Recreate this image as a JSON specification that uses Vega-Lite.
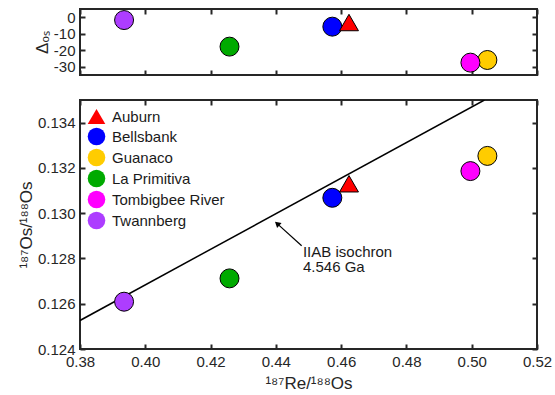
{
  "$schema": "https://vega.github.io/schema/vega-lite/v6.json",
  "padding": {"left": 16, "top": 7, "right": 10, "bottom": 5},
  "background": "white",
  "spacing": 21,
  "datasets": {
    "met": [
      {"name": "Guanaco", "re": 0.5048, "os": 0.13253, "delta": -25.9},
      {"name": "Tombigbee River", "re": 0.4996, "os": 0.13186, "delta": -27.5},
      {"name": "Bellsbank", "re": 0.4573, "os": 0.13068, "delta": -5.7},
      {"name": "Auburn", "re": 0.4624, "os": 0.1313, "delta": -3.2},
      {"name": "La Primitiva", "re": 0.4258, "os": 0.12712, "delta": -17.8},
      {"name": "Twannberg", "re": 0.3935, "os": 0.12609, "delta": -1.7}
    ],
    "iso": [
      {"re": 0.38, "os": 0.12526},
      {"re": 0.5039, "os": 0.135}
    ],
    "shaft": [
      {"re": 0.4479, "os": 0.12856, "re2": 0.4404, "os2": 0.12954}
    ],
    "head": [
      {"re": 0.4404, "os": 0.12954}
    ],
    "ann": [
      {"re": 0.4483, "os": 0.12829, "label": ["IIAB isochron", "4.546 Ga"]}
    ]
  },
  "config": {
    "font": "Liberation Sans",
    "view": {"stroke": "#262626", "strokeWidth": 2},
    "axis": {
      "domain": false,
      "grid": false,
      "labelFont": "Liberation Sans",
      "labelFontSize": 15,
      "labelColor": "#262626",
      "labelFlush": false,
      "labelOverlap": false,
      "titleFont": "Liberation Sans",
      "titleFontSize": 17,
      "titleFontWeight": "normal",
      "titleColor": "#262626",
      "tickColor": "#262626",
      "tickSize": -5,
      "tickWidth": 2,
      "labelPadding": 10,
      "titlePadding": 2
    }
  },
  "resolve": {"legend": {"fill": "independent", "shape": "independent"}},
  "vconcat": [
    {
      "width": 457,
      "height": 66,
      "layer": [
        {
          "encoding": {
            "x": {"field": "re", "type": "quantitative",
              "scale": {"domain": [0.38, 0.52], "nice": false, "zero": false},
              "axis": {"orient": "bottom", "values": [0.38, 0.4, 0.42, 0.44, 0.46, 0.48, 0.5, 0.52], "labels": false, "title": null}},
            "y": {"field": "delta", "type": "quantitative",
              "scale": {"domain": [-35, 5], "nice": false, "zero": false},
              "axis": {"orient": "left", "values": [0, -10, -20, -30], "labelExpr": "'' + datum.value", "title": "Δₒₛ", "titlePadding": 2}}
          },
          "layer": [
            {
              "data": {"values": [{}]},
              "mark": {"type": "rule", "color": "#262626", "strokeWidth": 1.5},
              "encoding": {"x": null, "y": {"datum": 0, "type": "quantitative"}}
            },
            {
              "data": {"name": "met"},
              "mark": {"type": "point", "filled": true, "stroke": "black", "strokeWidth": 1, "size": 360, "opacity": 1},
              "encoding": {
                "fill": {"field": "name", "type": "nominal",
                  "scale": {"domain": ["Auburn", "Bellsbank", "Guanaco", "La Primitiva", "Tombigbee River", "Twannberg"],
                    "range": ["#FF0000", "#0000FF", "#FFCC00", "#00AA00", "#FF00FF", "#AD3DFF"]},
                  "legend": null},
                "shape": {"field": "name", "type": "nominal",
                  "scale": {"domain": ["Auburn", "Bellsbank", "Guanaco", "La Primitiva", "Tombigbee River", "Twannberg"],
                    "range": ["triangle-up", "circle", "circle", "circle", "circle", "circle"]},
                  "legend": null}
              }
            }
          ]
        },
        {
          "data": {"name": "met"},
          "mark": {"type": "point", "opacity": 0},
          "encoding": {
            "x": {"field": "re", "type": "quantitative",
              "axis": {"orient": "top", "values": [0.38, 0.4, 0.42, 0.44, 0.46, 0.48, 0.5, 0.52], "labels": false, "title": null}},
            "y": {"field": "delta", "type": "quantitative",
              "axis": {"orient": "right", "values": [0, -10, -20, -30], "labels": false, "title": null}}
          }
        }
      ],
      "resolve": {"axis": {"x": "independent", "y": "independent"}}
    },
    {
      "width": 457,
      "height": 249,
      "layer": [
        {
          "encoding": {
            "x": {"field": "re", "type": "quantitative",
              "scale": {"domain": [0.38, 0.52], "nice": false, "zero": false},
              "axis": {"orient": "bottom", "values": [0.38, 0.4, 0.42, 0.44, 0.46, 0.48, 0.5, 0.52], "format": ".2f", "title": "¹⁸⁷Re/¹⁸⁸Os", "titlePadding": 6}},
            "y": {"field": "os", "type": "quantitative",
              "scale": {"domain": [0.124, 0.135], "nice": false, "zero": false},
              "axis": {"orient": "left", "values": [0.124, 0.126, 0.128, 0.13, 0.132, 0.134], "format": ".3f", "title": "¹⁸⁷Os/¹⁸⁸Os"}}
          },
          "layer": [
            {
              "data": {"name": "iso"},
              "mark": {"type": "line", "color": "black", "strokeWidth": 1.5, "clip": true}
            },
            {
              "data": {"name": "shaft"},
              "mark": {"type": "rule", "color": "black", "strokeWidth": 1.2},
              "encoding": {"x2": {"field": "re2"}, "y2": {"field": "os2"}}
            },
            {
              "data": {"name": "head"},
              "mark": {"type": "point", "shape": "triangle-up", "filled": true, "color": "black", "opacity": 1, "size": 45, "angle": 312}
            },
            {
              "data": {"name": "ann"},
              "mark": {"type": "text", "align": "left", "baseline": "middle", "font": "Liberation Sans", "fontSize": 15, "lineHeight": 15, "color": "#1a1a1a"},
              "encoding": {"text": {"field": "label"}}
            },
            {
              "data": {"name": "met"},
              "mark": {"type": "point", "filled": true, "stroke": "black", "strokeWidth": 1, "size": 360, "opacity": 1},
              "encoding": {
                "fill": {"field": "name", "type": "nominal",
                  "scale": {"domain": ["Auburn", "Bellsbank", "Guanaco", "La Primitiva", "Tombigbee River", "Twannberg"],
                    "range": ["#FF0000", "#0000FF", "#FFCC00", "#00AA00", "#FF00FF", "#AD3DFF"]},
                  "legend": {"orient": "top-left", "offset": 7, "title": null, "labelFont": "Liberation Sans", "labelFontSize": 15, "labelColor": "#1a1a1a", "symbolSize": 310, "symbolStrokeColor": "black", "symbolStrokeWidth": 1, "rowPadding": -7.5, "labelOffset": 6, "padding": 0}},
                "shape": {"field": "name", "type": "nominal",
                  "scale": {"domain": ["Auburn", "Bellsbank", "Guanaco", "La Primitiva", "Tombigbee River", "Twannberg"],
                    "range": ["triangle-up", "circle", "circle", "circle", "circle", "circle"]},
                  "legend": {"orient": "top-left", "offset": 7, "title": null, "labelFont": "Liberation Sans", "labelFontSize": 15, "labelColor": "#1a1a1a", "symbolSize": 310, "symbolStrokeColor": "black", "symbolStrokeWidth": 1, "rowPadding": -7.5, "labelOffset": 6, "padding": 0}}
              }
            }
          ]
        },
        {
          "data": {"name": "met"},
          "mark": {"type": "point", "opacity": 0},
          "encoding": {
            "x": {"field": "re", "type": "quantitative",
              "axis": {"orient": "top", "values": [0.38, 0.4, 0.42, 0.44, 0.46, 0.48, 0.5, 0.52], "labels": false, "title": null}},
            "y": {"field": "os", "type": "quantitative",
              "axis": {"orient": "right", "values": [0.124, 0.126, 0.128, 0.13, 0.132, 0.134], "labels": false, "title": null}}
          }
        }
      ],
      "resolve": {"axis": {"x": "independent", "y": "independent"}}
    }
  ]
}
